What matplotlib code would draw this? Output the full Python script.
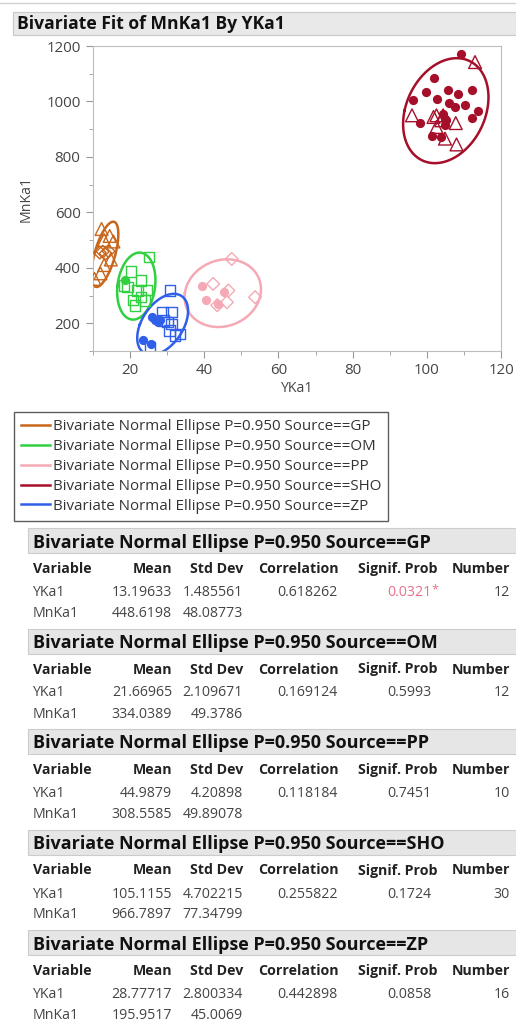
import numpy as np
import matplotlib
matplotlib.use('Agg')
import matplotlib.pyplot as plt
from matplotlib.patches import Rectangle
from matplotlib.lines import Line2D
from matplotlib.ticker import MultipleLocator

plt.rcParams['font.family'] = ['Open Sans', 'DejaVu Sans']

W, H = 516, 1023

SOURCES = ['GP', 'OM', 'PP', 'SHO', 'ZP']
COLORS = ['#C8661C', '#30D040', '#F5A9B5', '#A50F2A', '#3060EA']

# report values, per source (as printed)
YKA_MEAN = ['13.19633', '21.66965', '44.9879', '105.1155', '28.77717']
YKA_SD = ['1.485561', '2.109671', '4.20898', '4.702215', '2.800334']
MNKA_MEAN = ['448.6198', '334.0389', '308.5585', '966.7897', '195.9517']
MNKA_SD = ['48.08773', '49.3786', '49.89078', '77.34799', '45.0069']
CORR = ['0.618262', '0.169124', '0.118184', '0.255822', '0.442898']
SIGNIF = ['0.0321', '0.5993', '0.7451', '0.1724', '0.0858']
NUMBER = ['12', '12', '10', '30', '16']

# scatter points (x = YKa1, y = MnKa1)
gp_tri_x = [12.3, 14.5, 13.0, 15.5, 14.8, 13.0, 12.0, 10.4]
gp_tri_y = [540, 515, 500, 495, 430, 410, 380, 360]
gp_dia_x = [11.8, 12.6, 13.4, 14.2]
gp_dia_y = [455, 458, 452, 460]

om_sq_x = [25.1, 20.2, 22.9, 19.3, 22.0, 24.4, 23.0, 20.8, 21.3, 24.0, 18.4]
om_sq_y = [438, 387, 354, 330, 318, 320, 296, 284, 264, 282, 336]
om_dot_x = [18.7]
om_dot_y = [357]

pp_dot_x = [39.3, 40.4, 43.6, 45.3]
pp_dot_y = [334, 284, 268, 312]
pp_dia_x = [47.4, 42.4, 46.5, 46.1, 53.7, 43.5]
pp_dia_y = [432, 342, 318, 276, 294, 265]

sho_dot_x = [109.2, 102.0, 96.4, 99.7, 105.6, 102.8, 108.5, 112.1, 106.0, 107.7,
             110.4, 113.8, 112.3, 98.2, 101.3, 103.8, 104.9, 104.9, 104.4, 105.3]
sho_dot_y = [1172, 1086, 1006, 1033, 1040, 1010, 1026, 1043, 994, 980,
             986, 964, 941, 923, 874, 872, 938, 914, 956, 932]
sho_tri_x = [113.0, 96.0, 101.8, 102.6, 104.4, 103.9, 107.8, 104.9, 108.0, 102.6]
sho_tri_y = [1142, 950, 944, 950, 950, 932, 922, 866, 845, 908]

zp_dot_x = [25.8, 26.7, 27.6, 23.6, 25.6, 28.0]
zp_dot_y = [222, 210, 204, 140, 126, 212]
zp_sq_x = [30.8, 28.7, 31.2, 29.0, 30.1, 31.2, 33.5, 30.6, 25.4, 32.1]
zp_sq_y = [318, 240, 240, 210, 204, 198, 162, 174, 113, 156]


def fx(px):
    return px / W


def fy(py):
    return 1 - py / H


fig = plt.figure(figsize=(W / 100, H / 100), dpi=100)

# top separator + title bar
fig.add_artist(Line2D([0, 1], [fy(3), fy(3)], color='#D0D0D0', lw=1))
fig.add_artist(Rectangle((fx(13), fy(35)), fx(516 - 13), 23 / H,
                         facecolor='#E9E9E9', edgecolor='#C8C8C8', lw=0.8))
fig.text(fx(17), fy(29), 'Bivariate Fit of MnKa1 By YKa1', fontsize=12.6,
         fontweight='bold', color='#111111', va='baseline', ha='left')

ax = fig.add_axes([fx(93), fy(351), fx(501 - 93), (351 - 46) / H])
ax.set_xlim(10, 120)
ax.set_ylim(100, 1200)
ax.xaxis.set_major_locator(MultipleLocator(20))
ax.xaxis.set_minor_locator(MultipleLocator(10))
ax.yaxis.set_major_locator(MultipleLocator(200))
ax.yaxis.set_minor_locator(MultipleLocator(100))
for s in ax.spines.values():
    s.set_color('#BDBDBD')
ax.tick_params(which='major', length=5, color='#999999', labelsize=10.8,
               labelcolor='#444444', pad=4)
ax.tick_params(which='minor', length=3, color='#999999')
ax.set_xlabel('YKa1', fontsize=10.2, color='#444444', labelpad=2)
ax.set_ylabel('MnKa1', fontsize=10.2, color='#444444', labelpad=9)

groups = [
    [(gp_tri_x, gp_tri_y, '^'), (gp_dia_x, gp_dia_y, 'D')],
    [(om_sq_x, om_sq_y, 's'), (om_dot_x, om_dot_y, 'o')],
    [(pp_dot_x, pp_dot_y, 'o'), (pp_dia_x, pp_dia_y, 'D')],
    [(sho_dot_x, sho_dot_y, 'o'), (sho_tri_x, sho_tri_y, '^')],
    [(zp_dot_x, zp_dot_y, 'o'), (zp_sq_x, zp_sq_y, 's')],
]
sizes = {'o': 44, '^': 85, 's': 55, 'D': 42}

k = np.sqrt(-2 * np.log(1 - 0.95))
t = np.linspace(0, 2 * np.pi, 200)
handles = []
for i, src in enumerate(SOURCES):
    c = COLORS[i]
    for xs, ys, m in groups[i]:
        if m == 'o':
            ax.scatter(xs, ys, marker=m, s=sizes[m], color=c, lw=0, zorder=3)
        else:
            ax.scatter(xs, ys, marker=m, s=sizes[m], facecolors='none',
                       edgecolors=c, lw=1.0, zorder=3)
    mx, my = float(YKA_MEAN[i]), float(MNKA_MEAN[i])
    sx, sy, r = float(YKA_SD[i]), float(MNKA_SD[i]), float(CORR[i])
    cov = np.array([[sx * sx, r * sx * sy], [r * sx * sy, sy * sy]])
    vals, vecs = np.linalg.eigh(cov)
    pts = vecs @ (np.sqrt(vals)[:, None] * np.vstack([np.cos(t), np.sin(t)])) * k
    line, = ax.plot(mx + pts[0], my + pts[1], color=c, lw=1.8, zorder=2,
                    label=f'Bivariate Normal Ellipse P=0.950 Source=={src}')
    handles.append(line)

leg = fig.legend(handles=handles, loc='upper left',
                 bbox_to_anchor=(fx(14), fy(412)), fontsize=10.9,
                 frameon=True, fancybox=False, handlelength=1.95,
                 handletextpad=0.15, labelspacing=0.33, borderpad=0.45,
                 borderaxespad=0)
leg.get_frame().set_edgecolor('#333333')
leg.get_frame().set_linewidth(1.0)
for txt in leg.get_texts():
    txt.set_color('#333333')

# report tables (y values below are text baselines in pixels)
FS = 10.2
col_x = [172, 243, 339, 438, 510]
col_names = ['Mean', 'Std Dev', 'Correlation', 'Signif. Prob', 'Number']
for i, src in enumerate(SOURCES):
    y0 = 528 + i * 100.5
    fig.add_artist(Rectangle((fx(28), fy(y0 + 25)), fx(516 - 28), 25 / H,
                             facecolor='#E6E6E6', edgecolor='#CCCCCC', lw=0.8))
    fig.text(fx(33), fy(y0 + 19.5), f'Bivariate Normal Ellipse P=0.950 Source=={src}',
             fontsize=13, fontweight='bold', color='#111111', va='baseline')
    hy = y0 + 45
    fig.text(fx(33), fy(hy), 'Variable', fontsize=FS, fontweight='bold',
             color='#222222', va='baseline')
    for cx, name in zip(col_x, col_names):
        fig.text(fx(cx), fy(hy), name, fontsize=FS, fontweight='bold',
                 color='#222222', va='baseline', ha='right')
    ry1, ry2 = y0 + 68, y0 + 89
    fig.text(fx(33), fy(ry1), 'YKa1', fontsize=FS, color='#444444', va='baseline')
    fig.text(fx(33), fy(ry2), 'MnKa1', fontsize=FS, color='#444444', va='baseline')
    fig.text(fx(172), fy(ry1), YKA_MEAN[i], fontsize=FS, color='#444444',
             va='baseline', ha='right')
    fig.text(fx(243), fy(ry1), YKA_SD[i], fontsize=FS, color='#444444',
             va='baseline', ha='right')
    fig.text(fx(338), fy(ry1), CORR[i], fontsize=FS, color='#444444',
             va='baseline', ha='right')
    p = float(SIGNIF[i])
    pc = '#E8708A' if p < 0.05 else '#444444'
    fig.text(fx(431), fy(ry1), SIGNIF[i], fontsize=FS, color=pc,
             va='baseline', ha='right')
    if p < 0.05:
        fig.text(fx(431.5), fy(ry1 - 3), '*', fontsize=9, color=pc,
                 va='baseline', ha='left')
    fig.text(fx(510), fy(ry1), NUMBER[i], fontsize=FS, color='#444444',
             va='baseline', ha='right')
    fig.text(fx(172), fy(ry2), MNKA_MEAN[i], fontsize=FS, color='#444444',
             va='baseline', ha='right')
    fig.text(fx(243), fy(ry2), MNKA_SD[i], fontsize=FS, color='#444444',
             va='baseline', ha='right')

fig.savefig('out.png', dpi=100)
